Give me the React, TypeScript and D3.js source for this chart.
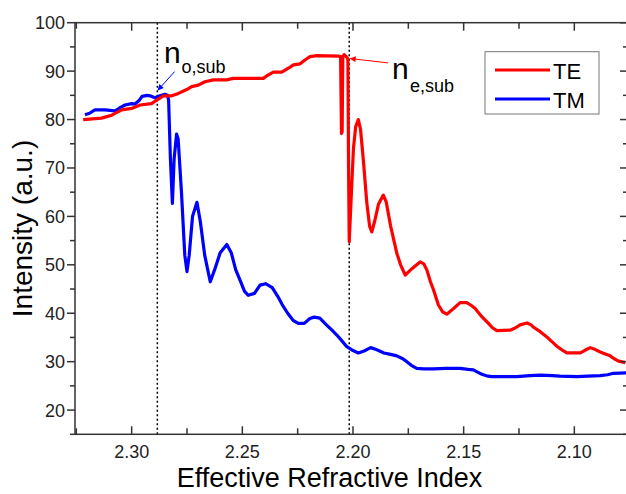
import React from 'react';
import * as d3 from 'd3';

// TE / TM curves: [effective index, intensity]
const teData: [number, number][] = [
  [2.3219, 80], [2.3136, 80.3], [2.309, 80.9], [2.3045, 82], [2.3, 82.3], [2.2962, 83],
  [2.291, 83.3], [2.2887, 84], [2.2857, 84.9], [2.2819, 84.9], [2.2789, 85.4], [2.2751, 86.2],
  [2.2729, 86.8], [2.2699, 87.1], [2.2669, 87.8], [2.2631, 88.2], [2.2571, 88.2], [2.2541, 88.5],
  [2.2405, 88.5], [2.239, 89], [2.236, 89.8], [2.2322, 89.8], [2.2292, 90.6], [2.2269, 91.3],
  [2.2239, 91.5], [2.2217, 92.3], [2.2194, 93], [2.2164, 93.2], [2.2066, 93.1], [2.2056, 93],
  [2.2052, 77.1], [2.2049, 77.5], [2.2046, 93], [2.204, 93.4], [2.203, 93], [2.2023, 92.5],
  [2.202, 70], [2.2017, 54.8], [2.2012, 60], [2.2005, 67], [2.1998, 74], [2.1988, 78.5],
  [2.1976, 80], [2.1966, 78], [2.1952, 71], [2.1938, 63], [2.1925, 58], [2.1915, 56.8],
  [2.1902, 59], [2.1885, 62.5], [2.1863, 64.4], [2.185, 63], [2.183, 58], [2.1802, 52.4],
  [2.1785, 50], [2.1764, 47.9], [2.175, 48.5], [2.1734, 49.2], [2.1697, 50.6], [2.168, 50.2],
  [2.1666, 48.9], [2.165, 46.5], [2.1636, 44.8], [2.1614, 41.7], [2.1595, 40.3], [2.1576, 39.8],
  [2.1555, 40.6], [2.1538, 41.3], [2.1516, 42.2], [2.1486, 42.2], [2.1465, 41.6], [2.1448, 41],
  [2.1418, 39.3], [2.1388, 37.9], [2.137, 37], [2.135, 36.4], [2.129, 36.5], [2.1265, 37],
  [2.1245, 37.6], [2.1214, 38], [2.1195, 37.6], [2.1184, 37.1], [2.1154, 36.2], [2.1124, 35.1],
  [2.11, 34.1], [2.1079, 33.2], [2.1055, 32.4], [2.1033, 31.8], [2.0973, 31.8], [2.095, 32.4],
  [2.0928, 32.9], [2.0905, 32.5], [2.0883, 32], [2.086, 31.6], [2.0838, 31.2], [2.082, 30.6],
  [2.08, 30.1], [2.077, 29.8],
];

const tmData: [number, number][] = [
  [2.3211, 81], [2.319, 81.3], [2.3166, 82], [2.312, 82], [2.3075, 81.8], [2.305, 82.5],
  [2.303, 83], [2.3, 83.3], [2.2985, 83.2], [2.2965, 84], [2.2953, 84.8], [2.293, 85],
  [2.2917, 84.9], [2.2895, 84.5], [2.2872, 84.9], [2.285, 85.2], [2.2838, 85], [2.2833, 84],
  [2.2825, 72], [2.2816, 62.7], [2.2808, 72], [2.2797, 77], [2.279, 76], [2.2775, 65],
  [2.276, 52], [2.275, 48.6], [2.274, 52], [2.2725, 60], [2.2705, 62.9], [2.269, 59],
  [2.267, 52], [2.2645, 46.5], [2.2625, 49], [2.26, 52.5], [2.257, 54.2], [2.255, 52.5],
  [2.253, 49], [2.251, 46.8], [2.249, 44.5], [2.2473, 43.7], [2.2445, 44.1], [2.242, 45.8],
  [2.2395, 46.1], [2.2365, 45.3], [2.234, 43.5], [2.232, 41.8], [2.2295, 40], [2.227, 38.5],
  [2.2247, 37.9], [2.222, 37.9], [2.2195, 38.9], [2.2175, 39.2], [2.215, 39], [2.212, 37.6],
  [2.2095, 36.5], [2.2073, 35.5], [2.205, 34.3], [2.2028, 33.1], [2.2, 32.3], [2.1976, 31.8],
  [2.195, 32.2], [2.192, 32.9], [2.1895, 32.5], [2.186, 31.8], [2.183, 31.5], [2.1802, 31.2],
  [2.1775, 30.6], [2.1757, 30], [2.1735, 29.2], [2.1712, 28.6], [2.168, 28.5], [2.1637, 28.5],
  [2.158, 28.6], [2.1516, 28.6], [2.148, 28.4], [2.1456, 28.3], [2.1435, 27.8], [2.1418, 27.4],
  [2.139, 27], [2.1373, 26.9], [2.13, 26.9], [2.126, 26.9], [2.12, 27.1], [2.1154, 27.2],
  [2.11, 27.1], [2.1064, 27], [2.0989, 26.9], [2.094, 27], [2.0883, 27.1], [2.085, 27.3],
  [2.0823, 27.6], [2.0765, 27.7],
];

const xTicks = [2.3, 2.25, 2.2, 2.15, 2.1];
const xMinorTicks = [2.325, 2.275, 2.225, 2.175, 2.125, 2.075];
const yTicks = [20, 30, 40, 50, 60, 70, 80, 90, 100];
const yMinorTicks = [15, 25, 35, 45, 55, 65, 75, 85, 95];
const substrateLines = [2.2884, 2.2017];
const seriesNames = ['TE', 'TM'];
const seriesColors = ['#ff0000', '#0000ff'];

const W = 626;
const H = 494;
const FONT = '"Liberation Sans", Arial, sans-serif';

const App = () => {
  const x = d3.scaleLinear().domain([2.3256, 2.0762]).range([75, 627]);
  const y = d3.scaleLinear().domain([15, 100]).range([434.3, 22.7]);
  const [x0, x1] = x.range();
  const [yb, yt] = y.range();

  const line = d3.line<[number, number]>()
    .x(d => x(d[0]))
    .y(d => y(d[1]));

  // annotation arrows (tail -> tip) in data units
  const oTail: [number, number] = [2.2806, 89.9];
  const oTip: [number, number] = [2.2881, 86.1];
  const eTail: [number, number] = [2.1841, 91.7];
  const eTip: [number, number] = [2.2012, 92.6];

  return (
    <div style={{ position: 'fixed', left: 0, top: 0 }}>
      <svg width={W} height={H} style={{ display: 'block', background: '#fff' }} fontFamily={FONT}>
        <defs>
          <clipPath id="plot">
            <rect x={x0} y={yt} width={x1 - x0} height={yb - yt} />
          </clipPath>
          <marker id="arrBlue" viewBox="0 0 10 10" refX="9" refY="5" markerWidth="7" markerHeight="6" orient="auto">
            <path d="M0,0 L10,5 L0,10 z" fill="#0000ff" />
          </marker>
          <marker id="arrRed" viewBox="0 0 10 10" refX="9" refY="5" markerWidth="7" markerHeight="6" orient="auto">
            <path d="M0,0 L10,5 L0,10 z" fill="#ff0000" />
          </marker>
        </defs>

        {/* substrate index markers */}
        {substrateLines.map(v => (
          <line key={v} x1={x(v)} x2={x(v)} y1={yt} y2={yb} stroke="#000" strokeWidth={1.5} strokeDasharray="2,2.5" />
        ))}

        <g clipPath="url(#plot)">
          <path d={line(tmData) || ''} fill="none" stroke={seriesColors[1]} strokeWidth={3.2} strokeLinejoin="round" />
          <path d={line(teData) || ''} fill="none" stroke={seriesColors[0]} strokeWidth={3.2} strokeLinejoin="round" />
        </g>

        {/* frame */}
        <rect x={x0} y={yt} width={x1 - x0} height={yb - yt} fill="none" stroke="#333" strokeWidth={1.5} />

        {/* x ticks: inward on bottom and top */}
        {xTicks.map(t => (
          <g key={'x' + t}>
            <line x1={x(t)} x2={x(t)} y1={yb} y2={yb - 8} stroke="#333" strokeWidth={1.5} />
            <line x1={x(t)} x2={x(t)} y1={yt} y2={yt + 8} stroke="#333" strokeWidth={1.5} />
            <text x={x(t)} y={458} textAnchor="middle" fontSize={18} fill="#222">{t.toFixed(2)}</text>
          </g>
        ))}
        {xMinorTicks.map(t => (
          <g key={'xm' + t}>
            <line x1={x(t)} x2={x(t)} y1={yb} y2={yb - 6} stroke="#333" strokeWidth={1.5} />
            <line x1={x(t)} x2={x(t)} y1={yt} y2={yt + 6} stroke="#333" strokeWidth={1.5} />
          </g>
        ))}

        {/* y ticks: outward on left, inward on right */}
        {yTicks.map(t => (
          <g key={'y' + t}>
            <line x1={x0} x2={x0 - 8} y1={y(t)} y2={y(t)} stroke="#333" strokeWidth={1.5} />
            <line x1={x1} x2={x1 - 7} y1={y(t)} y2={y(t)} stroke="#333" strokeWidth={1.5} />
            <text x={65} y={y(t)} dy="0.36em" textAnchor="end" fontSize={18} fill="#222">{t}</text>
          </g>
        ))}
        {yMinorTicks.map(t => (
          <g key={'ym' + t}>
            <line x1={x0} x2={x0 - 5} y1={y(t)} y2={y(t)} stroke="#333" strokeWidth={1.5} />
            <line x1={x1} x2={x1 - 4} y1={y(t)} y2={y(t)} stroke="#333" strokeWidth={1.5} />
          </g>
        ))}

        {/* axis titles */}
        <text x={(x0 + 574) / 2 + 5} y={487} textAnchor="middle" fontSize={27} fill="#000">Effective Refractive Index</text>
        <text transform={`translate(31.5,${(yt + yb) / 2}) rotate(-90)`} textAnchor="middle" fontSize={28} fill="#000">Intensity (a.u.)</text>

        {/* annotations */}
        <line x1={x(oTail[0])} y1={y(oTail[1])} x2={x(oTip[0])} y2={y(oTip[1])} stroke="#0000ff" strokeWidth={1} markerEnd="url(#arrBlue)" />
        <text x={164} y={62.7} fontSize={30} fill="#000">n</text>
        <text x={181.5} y={73.3} fontSize={18} fill="#000">o,sub</text>

        <line x1={x(eTail[0])} y1={y(eTail[1])} x2={x(eTip[0])} y2={y(eTip[1])} stroke="#ff0000" strokeWidth={1} markerEnd="url(#arrRed)" />
        <text x={392} y={79.3} fontSize={30} fill="#000">n</text>
        <text x={410} y={91.7} fontSize={18} fill="#000">e,sub</text>

        {/* legend */}
        <rect x={485} y={51.7} width={114} height={62.3} fill="#fff" stroke="#777" strokeWidth={1} />
        {seriesNames.map((name, i) => (
          <g key={name} transform={`translate(0,${70 + i * 29})`}>
            <line x1={495} x2={550} y1={0} y2={0} stroke={seriesColors[i]} strokeWidth={3} />
            <text x={553} y={8.5} fontSize={22} fill="#000">{name}</text>
          </g>
        ))}
      </svg>
    </div>
  );
};

export default App;
